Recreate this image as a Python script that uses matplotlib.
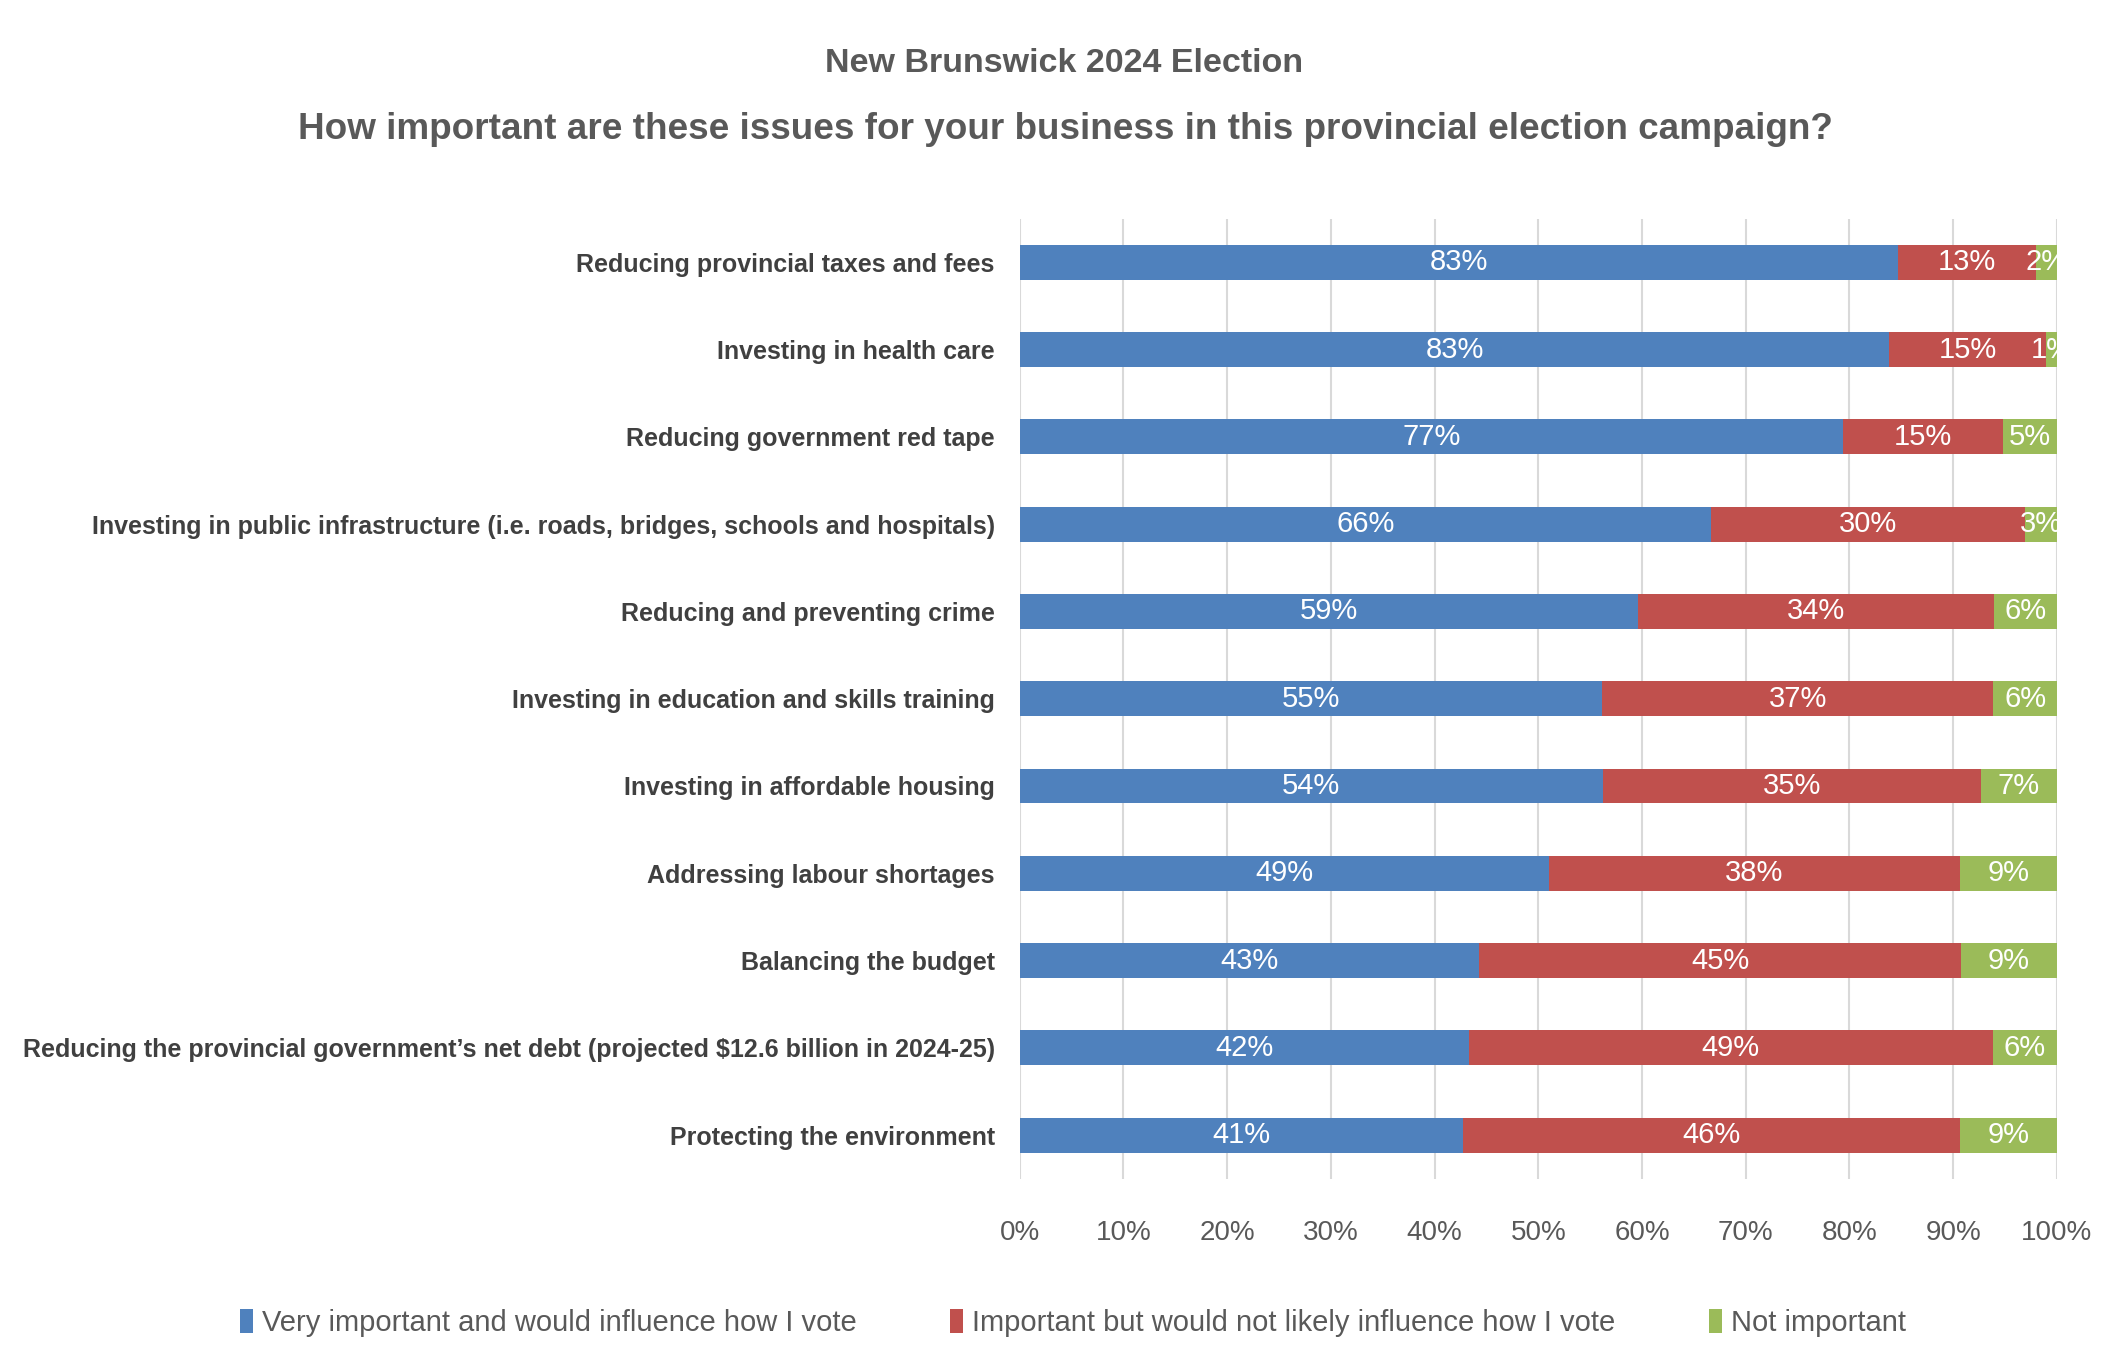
import numpy as np
import matplotlib
matplotlib.use("Agg")
import matplotlib.pyplot as plt
from matplotlib.patches import Patch

plt.rcParams["font.family"] = ["Liberation Sans", "DejaVu Sans"]

# data (top to bottom as in the chart)
issues = [
    "Reducing provincial taxes and fees",
    "Investing in health care",
    "Reducing government red tape",
    "Investing in public infrastructure (i.e. roads, bridges, schools and hospitals)",
    "Reducing and preventing crime",
    "Investing in education and skills training",
    "Investing in affordable housing",
    "Addressing labour shortages",
    "Balancing the budget",
    "Reducing the provincial government\u2019s net debt (projected $12.6 billion in 2024-25)",
    "Protecting the environment",
]
very_important = [83, 83, 77, 66, 59, 55, 54, 49, 43, 42, 41]
important_not_influence = [13, 15, 15, 30, 34, 37, 35, 38, 45, 49, 46]
not_important = [2, 1, 5, 3, 6, 6, 7, 9, 9, 6, 9]

series_names = [
    "Very important and would influence how I vote",
    "Important but would not likely influence how I vote",
    "Not important",
]
colors = ["#4F81BD", "#C0504D", "#9BBB59"]

fig = plt.figure(figsize=(21.12, 13.58), dpi=100)
ax = fig.add_axes([0.4828, 0.132, 0.4911, 0.707])

raw = np.array([very_important, important_not_influence, not_important], dtype=float)
shares = raw / raw.sum(axis=0)  # 100% stacked
y = np.arange(len(issues))

left = np.zeros(len(issues))
for k in range(3):
    bars = ax.barh(y, shares[k], left=left, height=0.4, color=colors[k],
                   label=series_names[k], zorder=3)
    for i, b in enumerate(bars):
        cx = left[i] + shares[k][i] / 2
        ax.text(cx, y[i], f"{int(raw[k][i])}%", ha="center", va="center",
                color="white", fontsize=21, zorder=4, clip_on=True)
    left += shares[k]

ax.set_xlim(0, 1)
ax.set_ylim(len(issues) - 0.5, -0.5)
ax.set_yticks(y)
ax.set_yticklabels(issues, fontsize=18, fontweight="bold", color="#404040")
ax.set_xticks(np.linspace(0, 1, 11))
ax.set_xticklabels([f"{t}%" for t in range(0, 101, 10)], fontsize=20, color="#595959")
ax.tick_params(axis="x", length=0, pad=30)
ax.tick_params(axis="y", length=0, pad=18)
ax.grid(axis="x", color="#D9D9D9", linewidth=1.5, zorder=0)
for s in ax.spines.values():
    s.set_visible(False)

fig.text(0.504, 0.953, "New Brunswick 2024 Election", ha="center", va="center",
         fontsize=24.5, fontweight="bold", color="#595959")
fig.text(0.5045, 0.905, "How important are these issues for your business in this provincial election campaign?",
         ha="center", va="center", fontsize=26.6, fontweight="bold", color="#595959")

handles = [Patch(facecolor=c) for c in colors]
fig.legend(handles, series_names, loc="center", bbox_to_anchor=(0.508, 0.026), ncol=3,
           frameon=False, fontsize=21, labelcolor="#595959", handlelength=0.45,
           handleheight=0.9, handletextpad=0.3, columnspacing=3.2)

fig.savefig("out.png", dpi=100, facecolor="white")
